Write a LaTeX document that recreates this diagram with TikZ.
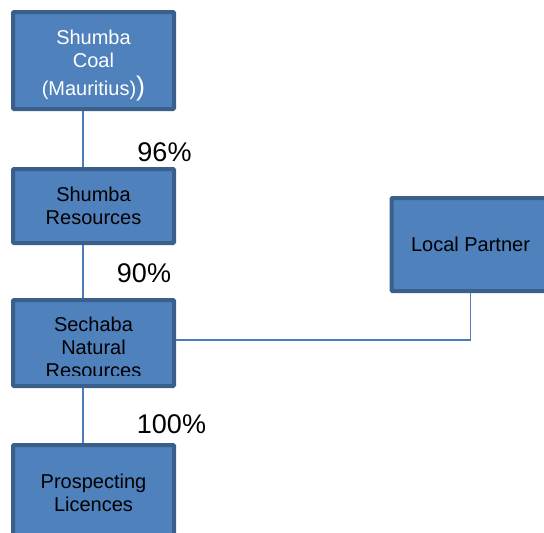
\documentclass[tikz,border=0pt]{standalone}
\usepackage{fontspec}
\setmainfont{Liberation Sans}
\definecolor{boxfill}{HTML}{4F81BD}
\definecolor{boxedge}{HTML}{3A5F8B}
\definecolor{linkline}{HTML}{4A7EBB}
\tikzset{
  entity/.style={draw=boxedge, fill=boxfill, line width=4pt, rectangle,
    rounded corners=1pt, align=center, font=\fontsize{20}{23}\selectfont,
    inner sep=0pt},
  link/.style={draw=linkline, line width=1.6pt},
  share/.style={font=\fontsize{27}{27}\selectfont}
}
\begin{document}
\begin{tikzpicture}[x=1pt, y=-1pt]
    \useasboundingbox (0, 0) rectangle (544, 533);
    \clip (0, 0) rectangle (544, 533);

    \node[entity, minimum width=161, minimum height=97, text=white] (coal) at (93.5, 60.5)
        {\begin{tabular}{@{}c@{}}\rule{0pt}{26pt}Shumba\\Coal\\[2pt](Mauritius){\fontsize{27}{27}\selectfont)}\end{tabular}};
    \node[entity, minimum width=161, minimum height=74] (shumba) at (93.5, 206)
        {Shumba\\Resources};
    \node[entity, minimum width=161, minimum height=86] (sechaba) at (93.5, 343) {};
    \begin{scope}
        \clip (15, 300) rectangle (172, 375);
        \node[align=center, font=\fontsize{20}{23}\selectfont, inner sep=0pt] (sechabatext)
            at (93.5, 347.5) {Sechaba\\Natural\\Resources};
    \end{scope}
    \node[entity, minimum width=161, minimum height=120] (licence) at (93.5, 505)
        {\begin{tabular}{@{}c@{}}Prospecting\\Licences\rule[-27pt]{0pt}{0pt}\end{tabular}};
    \node[entity, minimum width=158, minimum height=93] (partner) at (470.5, 244.5)
        {Local Partner};

    \draw[link] ([xshift=-10.5pt]coal.south) -- ([xshift=-10.5pt]shumba.north);
    \draw[link] ([xshift=-10.5pt]shumba.south) -- ([xshift=-10.5pt]sechaba.north);
    \draw[link] ([xshift=-10.5pt]sechaba.south) -- ([xshift=-10.5pt]licence.north);
    \draw[link] ([yshift=3pt]sechaba.east) -| (partner.south);

    \node[share] (coalshare) at (164.5, 152) {96\%};
    \node[share] (shumbashare) at (144, 273) {90\%};
    \node[share] (licenceshare) at (171.5, 424) {100\%};
\end{tikzpicture}
\end{document}
